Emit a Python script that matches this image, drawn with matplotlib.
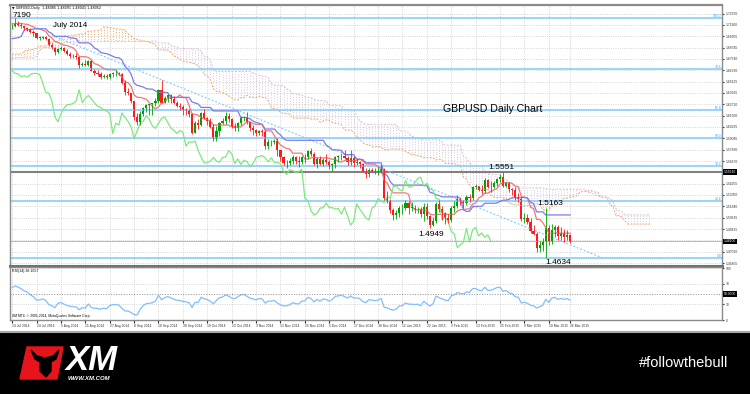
import numpy as np
import pandas as pd
import matplotlib
matplotlib.use('Agg')
import matplotlib.pyplot as plt
from matplotlib.patches import Rectangle, Polygon
import matplotlib.transforms as mtransforms

plt.rcParams['font.family'] = ['Liberation Sans', 'DejaVu Sans']

# --- history before the shown range (needed for Ichimoku / RSI warm-up), 24 Mar - 11 Jul 2014
pre_close = [1.6495, 1.6535, 1.6500, 1.6575, 1.6640, 1.6660, 1.6625, 1.6600, 1.6580, 1.6605,
             1.6555, 1.6620, 1.6720, 1.6740, 1.6725, 1.6725, 1.6750, 1.6720, 1.6795, 1.6800,
             1.6815, 1.6790, 1.6795, 1.6800, 1.6810, 1.6830, 1.6840, 1.6880, 1.6875, 1.6885,
             1.6865, 1.6970, 1.6955, 1.6950, 1.6855, 1.6820, 1.6760, 1.6810, 1.6795, 1.6820,
             1.6865, 1.6900, 1.6880, 1.6910, 1.6850, 1.6830, 1.6775, 1.6720, 1.6710, 1.6755,
             1.6730, 1.6765, 1.6745, 1.6800, 1.6825, 1.6775, 1.6780, 1.6815, 1.6955, 1.6975,
             1.6975, 1.6965, 1.6985, 1.7010, 1.7010, 1.6985, 1.6995, 1.6995, 1.7015, 1.7015,
             1.7105, 1.7140, 1.7155, 1.7165, 1.7150, 1.7135, 1.7155, 1.7155, 1.7125, 1.7105]
pre_high = [1.6545, 1.6575, 1.6560, 1.6600, 1.6655, 1.6680, 1.6680, 1.6650, 1.6620, 1.6640,
            1.6610, 1.6640, 1.6745, 1.6770, 1.6775, 1.6745, 1.6780, 1.6770, 1.6820, 1.6820,
            1.6830, 1.6840, 1.6820, 1.6830, 1.6835, 1.6850, 1.6870, 1.6910, 1.6920, 1.6900,
            1.6890, 1.7005, 1.6990, 1.6995, 1.6960, 1.6870, 1.6835, 1.6830, 1.6835, 1.6845,
            1.6875, 1.6925, 1.6930, 1.6925, 1.6910, 1.6860, 1.6840, 1.6780, 1.6740, 1.6770,
            1.6780, 1.6785, 1.6790, 1.6810, 1.6845, 1.6840, 1.6810, 1.6835, 1.6965, 1.6995,
            1.6995, 1.7005, 1.7010, 1.7060, 1.7040, 1.7025, 1.7015, 1.7025, 1.7045, 1.7050,
            1.7120, 1.7165, 1.7175, 1.7180, 1.7180, 1.7160, 1.7170, 1.7175, 1.7160, 1.7140]
pre_low = [1.6460, 1.6495, 1.6475, 1.6495, 1.6560, 1.6620, 1.6600, 1.6570, 1.6545, 1.6570,
           1.6525, 1.6550, 1.6620, 1.6700, 1.6710, 1.6690, 1.6700, 1.6700, 1.6715, 1.6770,
           1.6785, 1.6780, 1.6770, 1.6780, 1.6790, 1.6800, 1.6810, 1.6825, 1.6850, 1.6855,
           1.6850, 1.6865, 1.6930, 1.6940, 1.6850, 1.6800, 1.6745, 1.6740, 1.6775, 1.6785,
           1.6810, 1.6860, 1.6860, 1.6870, 1.6835, 1.6810, 1.6760, 1.6700, 1.6690, 1.6700,
           1.6700, 1.6715, 1.6725, 1.6735, 1.6790, 1.6765, 1.6760, 1.6770, 1.6800, 1.6940,
           1.6950, 1.6940, 1.6955, 1.6975, 1.6985, 1.6960, 1.6970, 1.6975, 1.6990, 1.6995,
           1.7015, 1.7090, 1.7125, 1.7140, 1.7130, 1.7110, 1.7120, 1.7135, 1.7105, 1.7085]

# --- daily bars shown, 14 Jul 2014 - 30 Mar 2015 (open = previous close)
first_open = 1.7100
close = [1.7105, 1.7130, 1.7120, 1.7105, 1.7085, 1.7075, 1.7045, 1.7025, 1.6980, 1.6980,
         1.6990, 1.6970, 1.6900, 1.6875, 1.6825, 1.6865, 1.6875, 1.6840, 1.6805, 1.6790,
         1.6780, 1.6770, 1.6685, 1.6705, 1.6690, 1.6730, 1.6630, 1.6600, 1.6595, 1.6565,
         1.6575, 1.6560, 1.6590, 1.6600, 1.6600, 1.6590, 1.6500, 1.6400, 1.6390, 1.6310,
         1.6140, 1.6085, 1.6170, 1.6230, 1.6265, 1.6270, 1.6280, 1.6310, 1.6425, 1.6290,
         1.6335, 1.6365, 1.6330, 1.6285, 1.6250, 1.6240, 1.6210, 1.6200, 1.6170, 1.5960,
         1.6070, 1.6050, 1.6180, 1.6130, 1.6090, 1.6030, 1.5905, 1.5990, 1.6070, 1.6090,
         1.6150, 1.6110, 1.6040, 1.6015, 1.6070, 1.6120, 1.6135, 1.6080, 1.6020, 1.5995,
         1.5960, 1.5990, 1.5975, 1.5825, 1.5870, 1.5865, 1.5880, 1.5780, 1.5705, 1.5645,
         1.5650, 1.5665, 1.5705, 1.5665, 1.5655, 1.5705, 1.5710, 1.5775, 1.5745, 1.5640,
         1.5690, 1.5630, 1.5675, 1.5660, 1.5610, 1.5640, 1.5705, 1.5715, 1.5725, 1.5700,
         1.5660, 1.5700, 1.5650, 1.5655, 1.5635, 1.5560, 1.5525, 1.5575, 1.5565, 1.5545,
         1.5555, 1.5580, 1.5270, 1.5245, 1.5140, 1.5090, 1.5110, 1.5165, 1.5170, 1.5220,
         1.5170, 1.5170, 1.5155, 1.5160, 1.5100, 1.5175, 1.5085, 1.4985, 1.5025, 1.5210,
         1.5155, 1.5110, 1.5060, 1.5040, 1.5165, 1.5190, 1.5265, 1.5240, 1.5225, 1.5285,
         1.5270, 1.5395, 1.5400, 1.5360, 1.5350, 1.5460, 1.5390, 1.5390, 1.5435, 1.5480,
         1.5495, 1.5400, 1.5430, 1.5370, 1.5355, 1.5270, 1.5260, 1.5045, 1.5065, 1.5015,
         1.4920, 1.4890, 1.4745, 1.4775, 1.4805, 1.4950, 1.4805, 1.4935, 1.4960, 1.4870,
         1.4900, 1.4855, 1.4880, 1.4810]
high = [1.7125, 1.7190, 1.7160, 1.7135, 1.7110, 1.7095, 1.7085, 1.7060, 1.7030, 1.7000,
        1.7000, 1.7000, 1.6980, 1.6925, 1.6885, 1.6875, 1.6895, 1.6880, 1.6860, 1.6825,
        1.6810, 1.6815, 1.6775, 1.6720, 1.6740, 1.6745, 1.6740, 1.6645, 1.6635, 1.6610,
        1.6590, 1.6590, 1.6600, 1.6615, 1.6640, 1.6620, 1.6600, 1.6525, 1.6445, 1.6395,
        1.6245, 1.6180, 1.6200, 1.6240, 1.6275, 1.6270, 1.6290, 1.6340, 1.6435, 1.6525,
        1.6355, 1.6385, 1.6380, 1.6360, 1.6310, 1.6280, 1.6265, 1.6235, 1.6225, 1.6180,
        1.6095, 1.6110, 1.6185, 1.6225, 1.6140, 1.6130, 1.6060, 1.6040, 1.6080, 1.6130,
        1.6185, 1.6180, 1.6125, 1.6070, 1.6080, 1.6145, 1.6150, 1.6185, 1.6085, 1.6050,
        1.6010, 1.6000, 1.6010, 1.6000, 1.5905, 1.5890, 1.5905, 1.5910, 1.5785, 1.5720,
        1.5680, 1.5700, 1.5735, 1.5725, 1.5725, 1.5720, 1.5740, 1.5785, 1.5810, 1.5760,
        1.5710, 1.5720, 1.5700, 1.5740, 1.5680, 1.5645, 1.5725, 1.5735, 1.5750, 1.5785,
        1.5715, 1.5785, 1.5720, 1.5700, 1.5665, 1.5650, 1.5595, 1.5590, 1.5590, 1.5590,
        1.5600, 1.5620, 1.5590, 1.5345, 1.5265, 1.5165, 1.5140, 1.5190, 1.5205, 1.5255,
        1.5240, 1.5235, 1.5195, 1.5180, 1.5175, 1.5220, 1.5220, 1.5095, 1.5075, 1.5230,
        1.5250, 1.5190, 1.5120, 1.5105, 1.5185, 1.5245, 1.5300, 1.5275, 1.5250, 1.5310,
        1.5315, 1.5405, 1.5420, 1.5405, 1.5410, 1.5485, 1.5475, 1.5450, 1.5450, 1.5490,
        1.5525, 1.5551, 1.5445, 1.5445, 1.5380, 1.5390, 1.5325, 1.5280, 1.5110, 1.5105,
        1.5060, 1.4990, 1.4915, 1.4810, 1.4845, 1.5163, 1.4990, 1.4995, 1.4990, 1.4990,
        1.4960, 1.4945, 1.4930, 1.4885]
low = [1.7075, 1.7095, 1.7105, 1.7085, 1.7060, 1.7055, 1.7030, 1.7000, 1.6965, 1.6960,
       1.6965, 1.6960, 1.6895, 1.6860, 1.6800, 1.6815, 1.6845, 1.6825, 1.6795, 1.6765,
       1.6765, 1.6750, 1.6660, 1.6680, 1.6675, 1.6680, 1.6625, 1.6580, 1.6575, 1.6535,
       1.6550, 1.6535, 1.6545, 1.6560, 1.6575, 1.6580, 1.6485, 1.6370, 1.6365, 1.6290,
       1.6100, 1.6050, 1.6050, 1.6150, 1.6190, 1.6160, 1.6160, 1.6255, 1.6280, 1.6285,
       1.6305, 1.6300, 1.6290, 1.6275, 1.6240, 1.6215, 1.6160, 1.6160, 1.6140, 1.5950,
       1.5960, 1.6010, 1.6035, 1.6110, 1.6055, 1.6015, 1.5875, 1.5875, 1.5930, 1.6060,
       1.6065, 1.6080, 1.6015, 1.5985, 1.5990, 1.6050, 1.6090, 1.6060, 1.5990, 1.5945,
       1.5930, 1.5940, 1.5930, 1.5790, 1.5790, 1.5825, 1.5845, 1.5715, 1.5665, 1.5625,
       1.5590, 1.5620, 1.5630, 1.5635, 1.5600, 1.5640, 1.5650, 1.5690, 1.5720, 1.5620,
       1.5590, 1.5620, 1.5610, 1.5640, 1.5580, 1.5560, 1.5595, 1.5660, 1.5680, 1.5685,
       1.5620, 1.5620, 1.5600, 1.5625, 1.5590, 1.5555, 1.5485, 1.5500, 1.5545, 1.5530,
       1.5515, 1.5535, 1.5255, 1.5215, 1.5110, 1.5035, 1.5050, 1.5070, 1.5105, 1.5140,
       1.5105, 1.5130, 1.5110, 1.5110, 1.5075, 1.5030, 1.5050, 1.4949, 1.4970, 1.5010,
       1.5120, 1.5040, 1.5000, 1.5010, 1.5020, 1.5125, 1.5165, 1.5200, 1.5165, 1.5200,
       1.5235, 1.5255, 1.5365, 1.5345, 1.5320, 1.5325, 1.5380, 1.5335, 1.5375, 1.5405,
       1.5440, 1.5395, 1.5395, 1.5335, 1.5305, 1.5250, 1.5235, 1.5025, 1.5010, 1.4995,
       1.4905, 1.4875, 1.4700, 1.4700, 1.4705, 1.4634, 1.4770, 1.4780, 1.4855, 1.4830,
       1.4825, 1.4800, 1.4825, 1.4790]

date_pos = [0, 8, 16, 24, 32, 40, 48, 56, 64, 72, 80, 88, 96, 104, 112, 120,
            128, 136, 144, 152, 160, 168, 176, 183]
date_labels = ['14 Jul 2014', '24 Jul 2014', '5 Aug 2014', '15 Aug 2014', '27 Aug 2014',
               '8 Sep 2014', '18 Sep 2014', '30 Sep 2014', '10 Oct 2014', '22 Oct 2014',
               '3 Nov 2014', '13 Nov 2014', '25 Nov 2014', '5 Dec 2014', '17 Dec 2014',
               '30 Dec 2014', '12 Jan 2015', '22 Jan 2015', '3 Feb 2015', '13 Feb 2015',
               '25 Feb 2015', '9 Mar 2015', '19 Mar 2015', '26 Mar 2015']
price_ticks = [1.45805, 1.47010, 1.48220, 1.49425, 1.50635, 1.51840, 1.53050, 1.54255,
               1.55465, 1.56670, 1.57880, 1.59085, 1.60295, 1.61500, 1.62710, 1.63915,
               1.65125, 1.66330, 1.67540, 1.68745, 1.69955, 1.71160, 1.72370]

fib_top, fib_bottom = 1.7190, 1.4634
fib_levels = [100.0, 78.6, 61.8, 50.0, 38.2, 23.6, 0.0]
hline_level = 1.5551
trend_pts = ([13, 194], [1.7005, 1.4630])  # hand-drawn trend line in the chart

# ---------------- indicators
n = len(close)
npre = len(pre_close)
hh = pd.Series(pre_high + high)
ll = pd.Series(pre_low + low)
cc = pd.Series(pre_close + close)
tenkan = (hh.rolling(9).max() + ll.rolling(9).min()) / 2
kijun = (hh.rolling(26).max() + ll.rolling(26).min()) / 2
span_a = ((tenkan + kijun) / 2).values[npre - 26:npre + n]
span_b = ((hh.rolling(52).max() + ll.rolling(52).min()) / 2).values[npre - 26:npre + n]
delta = cc.diff()
gain = delta.clip(lower=0).ewm(alpha=1 / 14, adjust=False).mean()
loss = (-delta.clip(upper=0)).ewm(alpha=1 / 14, adjust=False).mean()
rsi = (100 - 100 / (1 + gain / loss)).values[npre:]

x = np.arange(n)
close = np.array(close); high = np.array(high); low = np.array(low)
opn = np.r_[first_open, close[:-1]]

# ---------------- figure
W, H = 750, 394
fig = plt.figure(figsize=(7.5, 3.94), dpi=100, facecolor='white')

def box(l, t, r, b):
    return [l / W, 1 - b / H, (r - l) / W, (b - t) / H]

bg = fig.add_axes([0, 0, 1, 1])
bg.set_xlim(0, W); bg.set_ylim(H, 0); bg.axis('off')
bg.add_patch(Rectangle((0, 332), W, 62, color='black'))
bg.plot([0, W], [331.5, 331.5], color='#a8a8a8', lw=1.5)
bg.add_patch(Polygon([(20, 379), (27, 347), (63, 347), (57, 379)], closed=True, color='#e8141b'))
bg.add_patch(Polygon([(31, 350), (35, 359), (40, 362), (40, 371), (46, 377), (51, 371), (51, 362),
                      (56, 359), (59, 350), (53, 356), (45, 358), (37, 356)], closed=True, color='black'))
bg.text(66, 360, 'XM', color='white', fontsize=25, fontweight='bold', fontstyle='italic',
        ha='left', va='center')
bg.text(68, 379, 'WWW.XM.COM', color='white', fontsize=4.3, fontweight='bold', fontstyle='italic',
        ha='left', va='center')
bg.text(728, 363, '#followthebull', color='white', fontsize=10.5, ha='right', va='center',
        family=['Liberation Sans Narrow', 'Liberation Sans'])

ax = fig.add_axes(box(10, 5, 722, 266))
rx = fig.add_axes(box(10, 267, 722, 320))

for a in (ax, rx):
    a.set_xlim(-0.7, 232.8)
    for s in a.spines.values():
        s.set_color('#8a8a8a'); s.set_linewidth(1)
    a.yaxis.tick_right()
    a.set_xticks(date_pos)
    a.grid(True, color='#c8c8c8', linestyle=':', lw=0.6)
    a.set_axisbelow(True)
ax.spines['bottom'].set_linewidth(2.2); ax.spines['bottom'].set_color('#707070')
ax.spines['top'].set_linewidth(1.6)

# cloud
cx = np.arange(len(span_a))
ccols = np.where(span_a >= span_b, '#f4a460', '#d8bfd8')
ax.vlines(cx, span_a, span_b, colors=ccols, linestyles=':', lw=0.7, alpha=0.9)
ax.plot(cx, span_a, color='#f4a460', lw=0.7, ls=(0, (2, 1.5)), alpha=0.9)
ax.plot(cx, span_b, color='#d8bfd8', lw=0.7, ls=(0, (2, 1.5)))

# fib / levels
for lv in fib_levels:
    p = fib_bottom + (fib_top - fib_bottom) * lv / 100
    ax.axhline(p, color='#87cefa', lw=1.2)
    ax.text(0.999, p, f'{lv:.1f}', transform=mtransforms.blended_transform_factory(ax.transAxes, ax.transData),
            ha='right', va='bottom', fontsize=2.4, color='#3aa0ff')
ax.axhline(hline_level, color='#808080', lw=1.5)
ax.axhline(close[-1], color='#b8b8b8', lw=0.7)
ax.plot(trend_pts[0], trend_pts[1], color='#87cefa', lw=0.9, ls=(0, (1.5, 1.5)))

# ichimoku lines
ax.plot(x, tenkan.values[npre:], color='#f07878', lw=0.9)
ax.plot(x, kijun.values[npre:], color='#7b7bf0', lw=0.9)
ax.plot(x[:n - 26], close[26:], color='#7ee87e', lw=0.9)

# candles
up = close >= opn
col = np.where(up, '#00a000', '#ff1a1a')
ax.vlines(x, np.minimum(low, opn), np.maximum(high, opn), colors=col, lw=0.6)
body = np.maximum(np.abs(close - opn), 0.0004)
ax.bar(x, body, bottom=np.minimum(close, opn), width=0.7, color=col, linewidth=0)

ax.set_ylim(1.45488, 1.73284)
ax.set_yticks(price_ticks)
ax.set_yticklabels([f'{p:.5f}' for p in price_ticks])
ax.tick_params(axis='y', labelsize=2.4, length=1.5, pad=1, colors='#333333')
ax.tick_params(axis='x', labelbottom=False, length=0)

yx = mtransforms.blended_transform_factory(ax.transAxes, ax.transData)
for p in (hline_level, close[-1]):
    ax.text(1.003, p, f'{p:.5f}', transform=yx, ha='left', va='center', fontsize=2.4, color='white',
            bbox=dict(fc='black', ec='none', pad=0.7))

ax.text(0.003, 0.995, '\u25bc GBPUSD,Daily  1.48085 1.48091 1.48041 1.48052', transform=ax.transAxes,
        fontsize=2.4, va='top', ha='left', family=['DejaVu Sans'])

# annotations
ax.annotate('7190', (0, fib_top), xytext=(0, 0.8), textcoords='offset points',
            fontsize=6, ha='left', va='baseline')
ax.text(13.5, 1.7115, 'July 2014', fontsize=5.8, ha='left', va='center')
ax.text(141.3, 1.6226, 'GBPUSD Daily Chart', fontsize=7.6, ha='left', va='center')
i_hi = int(np.argmax(high[140:])) + 140
ax.annotate(f'{high[i_hi]:.4f}', (i_hi, high[i_hi]), xytext=(-1, 1), textcoords='offset points',
            ha='center', va='bottom', fontsize=6)
i_lo = int(np.argmin(low[120:150])) + 120
ax.annotate(f'{low[i_lo]:.4f}', (i_lo, low[i_lo]), xytext=(1, -1.5), textcoords='offset points',
            ha='center', va='top', fontsize=6)
i_sp = int(np.argmax(high[170:])) + 170
ax.annotate(f'{high[i_sp]:.4f}', (i_sp, high[i_sp]), xytext=(3, 1), textcoords='offset points',
            ha='center', va='bottom', fontsize=6)
ax.annotate(f'{low[i_sp]:.4f}', (i_sp, low[i_sp]), xytext=(0, -0.5), textcoords='offset points',
            ha='left', va='top', fontsize=6)

# RSI panel
rx.plot(x, rsi, color='#7fbfff', lw=0.9)
rx.set_ylim(0, 102)
rx.set_yticks([0, 30, 70, 100])
rx.set_yticklabels(['0', '30', '70', '100'])
rx.axhline(50, color='#909090', lw=0.7, ls=':')
rx.tick_params(axis='y', labelsize=2.4, length=1.5, pad=1, colors='#333333')
rx.set_xticklabels(date_labels, ha='left')
rx.tick_params(axis='x', labelsize=2.4, length=2, pad=1, colors='#333333')
rx.text(1.003, 50, '50.0000', transform=mtransforms.blended_transform_factory(rx.transAxes, rx.transData),
        ha='left', va='center', fontsize=2.4, color='white', bbox=dict(fc='black', ec='none', pad=0.7))
rx.text(0.003, 0.96, f'RSI(14) {rsi[-1]:.4f}', transform=rx.transAxes, fontsize=2.6, va='top', ha='left')
rx.text(0.003, 0.04, 'XM MT4, \u00a9 2001-2014, MetaQuotes Software Corp.', transform=rx.transAxes,
        fontsize=2.4, va='bottom', ha='left')

fig.savefig('out.png', dpi=100, facecolor='white')
